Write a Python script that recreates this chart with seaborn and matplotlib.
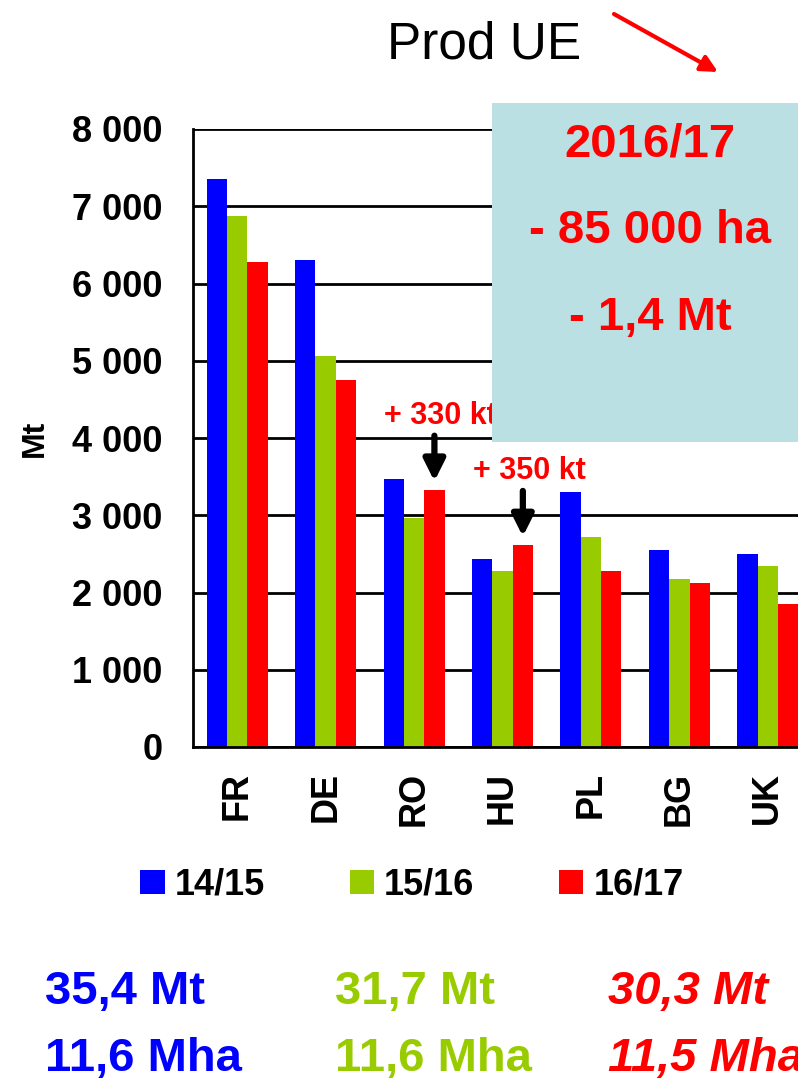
import matplotlib
matplotlib.use("Agg")
import matplotlib.pyplot as plt
import seaborn as sns
import pandas as pd
from matplotlib.patches import Rectangle, FancyArrowPatch
from matplotlib.ticker import FuncFormatter

# Production by country (kt) for three campaigns
pays = ["FR", "DE", "RO", "HU", "PL", "BG", "UK"]
campagnes = ["14/15", "15/16", "16/17"]
prod_1415 = [7350, 6300, 3470, 2430, 3300, 2550, 2500]
prod_1516 = [6870, 5060, 2970, 2280, 2720, 2175, 2340]
prod_1617 = [6280, 4750, 3330, 2615, 2280, 2120, 1850]
couleurs = ["#0000FF", "#99CC00", "#FF0000"]

totaux_mt = ["35,4 Mt", "31,7 Mt", "30,3 Mt"]
totaux_mha = ["11,6 Mha", "11,6 Mha", "11,5 Mha"]
hausses = [("RO", "+ 330 kt"), ("HU", "+ 350 kt")]
encadre = ["2016/17", "- 85 000 ha", "- 1,4 Mt"]

sns.set_style("white")
plt.rcParams["font.family"] = ["Liberation Sans", "DejaVu Sans"]
for k in ["text.color", "axes.labelcolor", "xtick.color", "ytick.color"]:
    plt.rcParams[k] = "black"

df = pd.DataFrame({
    "pays": pays * 3,
    "campagne": [c for c in campagnes for _ in pays],
    "prod": prod_1415 + prod_1516 + prod_1617,
})

W, H = 798, 1083
fig = plt.figure(figsize=(W / 100, H / 100), dpi=100)
ax = fig.add_axes([193 / W, 1 - 747 / H, (812 - 193) / W, (747 - 129) / H])

sns.barplot(data=df, x="pays", y="prod", hue="campagne", palette=couleurs,
            width=0.69, saturation=1, ax=ax, errorbar=None, linewidth=0)

handles, labels = ax.get_legend_handles_labels()
if ax.get_legend() is not None:
    ax.get_legend().remove()

ax.set_ylim(0, 8000)
ax.set_yticks(range(0, 8001, 1000))
ax.yaxis.set_major_formatter(FuncFormatter(lambda v, p: f"{int(v):,}".replace(",", " ")))
ax.set_axisbelow(True)
ax.yaxis.grid(True, color="black", linewidth=2)
ax.xaxis.grid(False)
for s in ["right", "top"]:
    ax.spines[s].set_visible(False)
for s in ["left", "bottom"]:
    ax.spines[s].set_color("black")
    ax.spines[s].set_linewidth(2)

ax.tick_params(axis="y", length=0, pad=22, labelsize=26, labelcolor="black")
ax.tick_params(axis="x", length=0, pad=18, labelsize=26, labelcolor="black")
for lab in ax.get_yticklabels() + ax.get_xticklabels():
    lab.set_fontweight("bold")
for lab in ax.get_xticklabels():
    lab.set_rotation(90)
ax.set_xlabel("")
ax.set_ylabel("Mt", fontsize=23, fontweight="bold", labelpad=16, color="black")

# Annotated increases on the 16/17 bars
off = 0.69 / 3
for code, texte in hausses:
    i = pays.index(code)
    v = prod_1617[i]
    x = i + off
    ax.annotate("", xy=(x, v + 110), xytext=(x, v + 700),
                arrowprops=dict(arrowstyle="-|>", color="black", lw=4.5,
                                mutation_scale=32, shrinkA=0, shrinkB=0))
    ax.text(x + 0.07, v + 960, texte, color="#FF0000", fontsize=22,
            fontweight="bold", ha="center", va="center")

# Summary box
fig.patches.append(Rectangle((492 / W, 1 - 442 / H), (W - 492) / W, (442 - 103) / H,
                             transform=fig.transFigure, facecolor="#BBE0E3",
                             edgecolor="none", zorder=5))
for t, yy in zip(encadre, [144, 231, 318]):
    fig.text(650 / W, 1 - yy / H, t, color="#FF0000", fontsize=34,
             fontweight="bold", ha="center", va="center", zorder=6)

fig.text(484 / W, 1 - 45 / H, "Prod UE", fontsize=37, ha="center", va="center",
         color="black")
fig.patches.append(FancyArrowPatch((614 / W, 1 - 14 / H), (718 / W, 1 - 72 / H),
                                   transform=fig.transFigure, arrowstyle="-|>",
                                   color="#FF0000", lw=3, mutation_scale=25,
                                   shrinkA=0, shrinkB=0))

leg = fig.legend(handles, labels, ncol=3, loc="center", bbox_to_anchor=(412 / W, 1 - 885 / H),
                 frameon=False, prop={"weight": "bold", "size": 26},
                 handlelength=0.67, handleheight=0.67, handletextpad=0.28,
                 columnspacing=2.35, borderpad=0)
for t in leg.get_texts():
    t.set_color("black")

xs = [45, 335, 608]
for j in range(3):
    style = "italic" if j == 2 else "normal"
    fig.text(xs[j] / W, 1 - 992 / H, totaux_mt[j], color=couleurs[j], fontsize=34,
             fontweight="bold", fontstyle=style, ha="left", va="center")
    fig.text(xs[j] / W, 1 - 1059 / H, totaux_mha[j], color=couleurs[j], fontsize=34,
             fontweight="bold", fontstyle=style, ha="left", va="center")

fig.savefig("out.png", dpi=100)
